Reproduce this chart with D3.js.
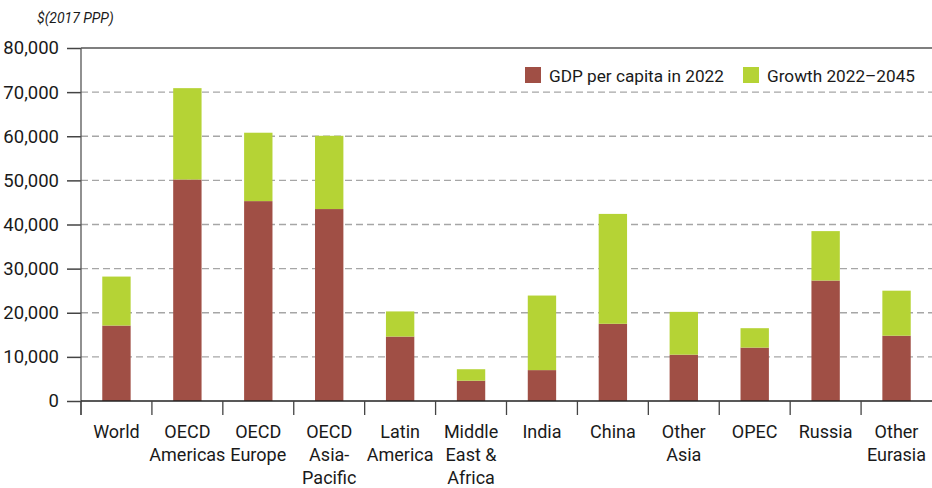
<!DOCTYPE html>
<html>
<head>
<meta charset="utf-8">
<script src="https://cdn.jsdelivr.net/npm/d3@7"></script>
<style>
  html, body { margin: 0; padding: 0; background: #fff; }
  svg { display: block; font-family: Roboto, "DejaVu Sans", sans-serif; }
</style>
</head>
<body>
<svg id="chart" width="932" height="488"></svg>
<script>
const categories = ["World", "OECD Americas", "OECD Europe", "OECD Asia-Pacific", "Latin America",
  "Middle East & Africa", "India", "China", "Other Asia", "OPEC", "Russia", "Other Eurasia"];
const categoryLines = [["World"], ["OECD", "Americas"], ["OECD", "Europe"], ["OECD", "Asia-", "Pacific"],
  ["Latin", "America"], ["Middle", "East &", "Africa"], ["India"], ["China"], ["Other", "Asia"],
  ["OPEC"], ["Russia"], ["Other", "Eurasia"]];
const gdp2022 = [17100, 50200, 45300, 43500, 14600, 4600, 7000, 17500, 10500, 12100, 27300, 14800];
const growth = [11100, 20700, 15500, 16600, 5700, 2600, 16900, 24900, 9700, 4400, 11200, 10200];
const yTicks = [0, 10000, 20000, 30000, 40000, 50000, 60000, 70000, 80000];
const seriesNames = ["GDP per capita in 2022", "Growth 2022\u20132045"];
const unitLabel = "$(2017 PPP)";

const colors = ["#a04f45", "#b5d335"];
const svg = d3.select("#chart");
const mLeft = 81, mRight = 932, mTop = 48, mBottom = 401;

const x = d3.scaleBand().domain(categories).range([mLeft, mRight]).paddingInner(0.6).paddingOuter(0.3);
const y = d3.scaleLinear().domain([0, 80000]).range([mBottom, mTop]);

// gridlines
svg.append("g").selectAll("line").data(yTicks.filter(d => d > 0 && d < 80000)).join("line")
  .attr("x1", mLeft).attr("x2", mRight).attr("y1", d => y(d)).attr("y2", d => y(d))
  .attr("stroke", "#a6a6a6").attr("stroke-width", 1.4).attr("stroke-dasharray", "7,4");
// top line
svg.append("line").attr("x1", mLeft).attr("x2", mRight).attr("y1", y(80000)).attr("y2", y(80000))
  .attr("stroke", "#555").attr("stroke-width", 1.3);

// stacked bars
const stackData = categories.map((c, i) => ({ cat: c, base: gdp2022[i], growth: growth[i] }));
const stack = d3.stack().keys(["base", "growth"])(stackData);
svg.append("g").selectAll("g").data(stack).join("g").attr("fill", (d, i) => colors[i])
  .selectAll("rect").data(d => d).join("rect")
  .attr("x", d => x(d.data.cat)).attr("width", x.bandwidth())
  .attr("y", d => y(d[1])).attr("height", d => y(d[0]) - y(d[1]));

// y axis
const yAxis = d3.axisLeft(y).tickValues(yTicks).tickFormat(d3.format(",")).tickSize(14).tickPadding(8);
const gy = svg.append("g").attr("transform", `translate(${mLeft},0)`).call(yAxis);
gy.select(".domain").remove();
gy.selectAll(".tick line").attr("stroke", "#444").attr("stroke-width", 1.5);
gy.selectAll(".tick text").attr("font-size", 18.5).attr("fill", "#1a1a1a").attr("font-family", "Roboto, sans-serif");
svg.append("line").attr("x1", mLeft).attr("x2", mLeft).attr("y1", mTop).attr("y2", mBottom + 14)
  .attr("stroke", "#555").attr("stroke-width", 1.3);

// x axis line
svg.append("line").attr("x1", mLeft).attr("x2", mRight).attr("y1", mBottom).attr("y2", mBottom)
  .attr("stroke", "#222").attr("stroke-width", 1.3);
// separators
const step = x.step();
const x0 = x(categories[0]) - x.paddingOuter() * step;
svg.append("g").selectAll("line").data(d3.range(categories.length)).join("line")
  .attr("x1", i => x0 + i * step).attr("x2", i => x0 + i * step)
  .attr("y1", mBottom).attr("y2", mBottom + 14).attr("stroke", "#444").attr("stroke-width", 1.3);

// x labels
const lbl = svg.append("g").selectAll("text").data(categories).join("text")
  .attr("text-anchor", "middle").attr("font-size", 18).attr("fill", "#1a1a1a")
  .attr("transform", d => `translate(${x(d) + x.bandwidth() / 2},438)`);
lbl.selectAll("tspan").data((d, i) => categoryLines[i]).join("tspan")
  .attr("x", 0).attr("dy", (d, i) => i === 0 ? 0 : 22.8).text(d => d);

// unit label
svg.append("text").attr("x", 37).attr("y", 23).attr("font-size", 14).attr("font-style", "italic")
  .attr("fill", "#1a1a1a").text(unitLabel);

// legend
const legendX = [525, 743];
const leg = svg.append("g").selectAll("g").data(seriesNames).join("g")
  .attr("transform", (d, i) => `translate(${legendX[i]},67)`);
leg.append("rect").attr("width", 16).attr("height", 16).attr("fill", (d, i) => colors[i]);
leg.append("text").attr("x", 24).attr("y", 15).attr("font-size", 17.2).attr("fill", "#1a1a1a").text(d => d);
</script>
</body>
</html>
